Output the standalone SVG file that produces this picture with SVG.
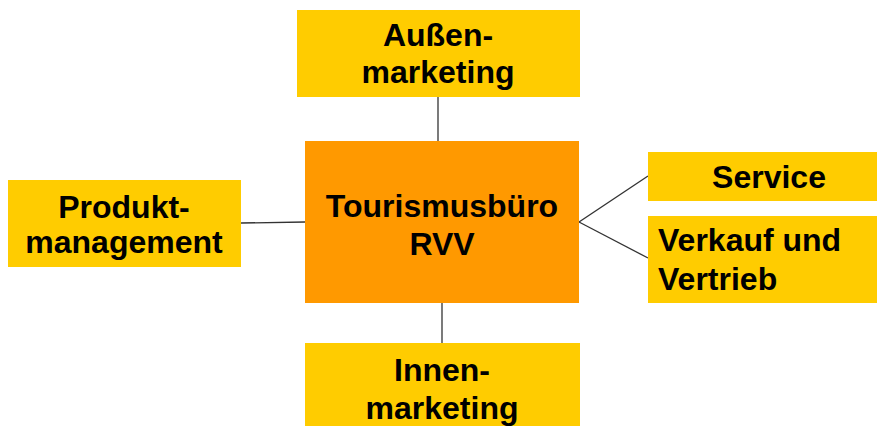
<svg xmlns="http://www.w3.org/2000/svg" width="877" height="426" viewBox="0 0 877 426">
<style>
.box{fill:#FFCC00}
.core{fill:#FF9900}
.t{font-family:"Liberation Sans",Arial,sans-serif;font-weight:bold;font-size:32px;fill:#000}
.c{text-anchor:middle}
.ln{stroke:#333;stroke-width:1.3;fill:none}
</style>
<rect width="877" height="426" fill="#fff"/>
<g id="connectors">
<line class="ln" x1="438" y1="97" x2="438" y2="141"/>
<line class="ln" x1="241" y1="223" x2="305" y2="222"/>
<line class="ln" x1="442" y1="303" x2="442" y2="343"/>
<line class="ln" x1="579" y1="222" x2="648" y2="176"/>
<line class="ln" x1="579" y1="222" x2="648" y2="258"/>
</g>
<g id="aussen">
<rect class="box" x="297" y="10" width="283" height="87"/>
<text class="t c" x="438" y="46">Außen-</text>
<text class="t c" x="438" y="83">marketing</text>
</g>
<g id="zentrum">
<rect class="core" x="305" y="141" width="274" height="162"/>
<text class="t c" x="442" y="217">Tourismusbüro</text>
<text class="t c" x="442" y="255">RVV</text>
</g>
<g id="produkt">
<rect class="box" x="8" y="180" width="233" height="87"/>
<text class="t c" x="124" y="218">Produkt-</text>
<text class="t c" x="124" y="253">management</text>
</g>
<g id="service">
<rect class="box" x="648" y="152" width="229" height="49"/>
<text class="t c" x="769" y="188">Service</text>
</g>
<g id="verkauf">
<rect class="box" x="648" y="216" width="229" height="87"/>
<text class="t" x="658" y="251">Verkauf und</text>
<text class="t" x="658" y="290">Vertrieb</text>
</g>
<g id="innen">
<rect class="box" x="305" y="343" width="275" height="83"/>
<text class="t c" x="442" y="381">Innen-</text>
<text class="t c" x="442" y="419">marketing</text>
</g>
</svg>
